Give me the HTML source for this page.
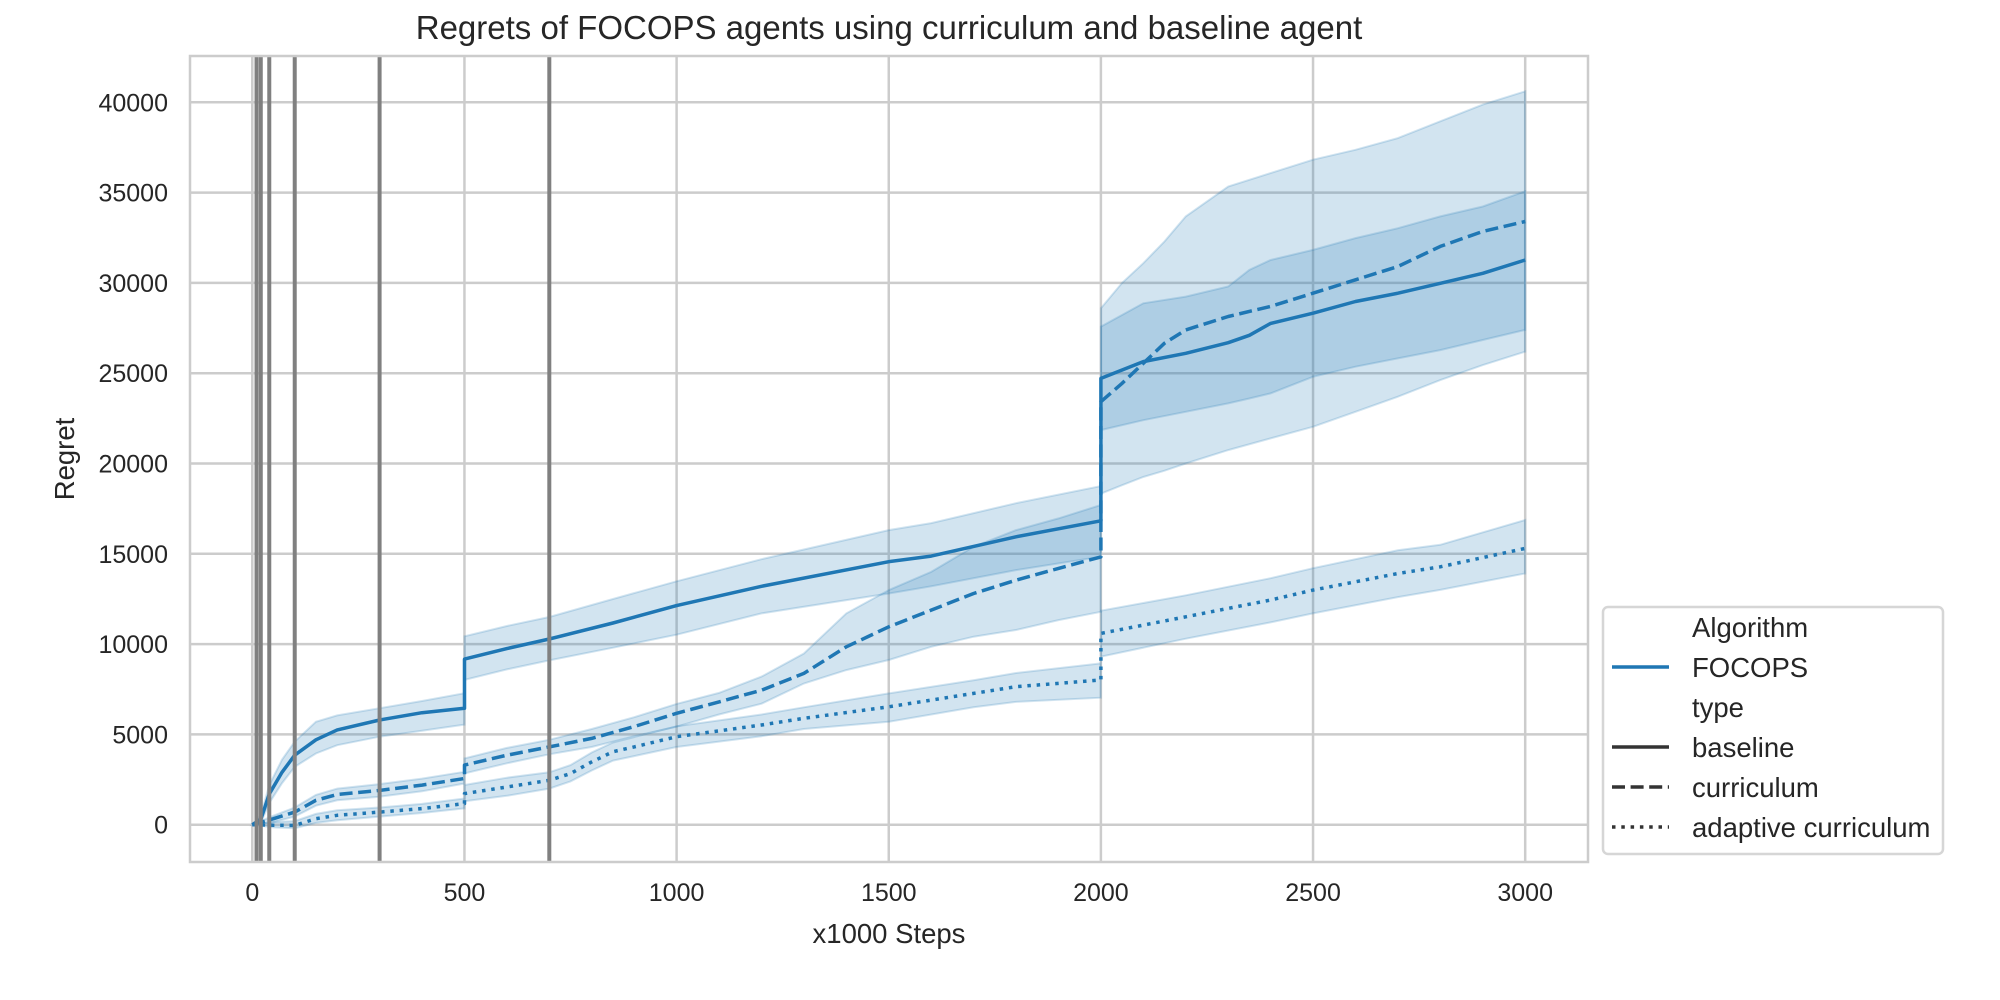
<!DOCTYPE html>
<html><head><meta charset="utf-8">
<style>
html,body{margin:0;padding:0;background:#fff;}
svg{display:block;font-family:"Liberation Sans",Arial,sans-serif;}
</style></head>
<body>
<svg id="chart" width="2000" height="1000" viewBox="0 0 2000 1000" xmlns="http://www.w3.org/2000/svg">
<rect width="2000" height="1000" fill="#fff"/>
<text x="889" y="39" font-size="33" fill="#262626" text-anchor="middle">Regrets of FOCOPS agents using curriculum and baseline agent</text>
<g id="grid"></g>
<g id="bands"></g>
<g id="lines"></g>
<g id="vlines"></g>
<rect x="190" y="56" width="1398" height="806" fill="none" stroke="#cccccc" stroke-width="2.5"/>
<g id="ticks"></g>
<text x="889" y="943" font-size="27.5" fill="#262626" text-anchor="middle">x1000 Steps</text>
<text transform="translate(74,459) rotate(-90)" font-size="27.5" fill="#262626" text-anchor="middle">Regret</text>
<g>
<rect x="1603" y="607" width="340" height="247" rx="5" fill="#fff" stroke="#d6d6d6" stroke-width="2.5"/>
<text x="1692" y="637" font-size="27.5" fill="#262626">Algorithm</text>
<line x1="1612" y1="667" x2="1669" y2="667" stroke="#1f77b4" stroke-width="3.5"/>
<text x="1692" y="677" font-size="27.5" fill="#262626">FOCOPS</text>
<text x="1692" y="717" font-size="27.5" fill="#262626">type</text>
<line x1="1612" y1="747" x2="1669" y2="747" stroke="#333" stroke-width="3.5"/>
<text x="1692" y="757" font-size="27.5" fill="#262626">baseline</text>
<line x1="1612" y1="787" x2="1669" y2="787" stroke="#333" stroke-width="3.5" stroke-dasharray="13,5.6"/>
<text x="1692" y="797" font-size="27.5" fill="#262626">curriculum</text>
<line x1="1612" y1="827" x2="1669" y2="827" stroke="#333" stroke-width="3.5" stroke-dasharray="3.5,5.8"/>
<text x="1692" y="837" font-size="27.5" fill="#262626">adaptive curriculum</text>
</g>
</svg>
<script>
const xTicks = [0,500,1000,1500,2000,2500,3000];
const yTicks = [0,5000,10000,15000,20000,25000,30000,35000,40000];
const markerSteps = [10,20,40,100,300,700];

const baseX = [0,20,40,70,100,150,200,300,400,500,500,600,700,850,1000,1200,1500,1600,1800,2000,2000,2100,2200,2300,2350,2400,2500,2600,2700,2800,2900,3000];
const baseMean = [0,300,1700,2900,3850,4700,5250,5800,6200,6450,9170,9750,10280,11170,12130,13200,14560,14870,15940,16830,24710,25640,26100,26690,27100,27760,28320,28970,29430,29980,30530,31270];
const baseHi = [0,500,2200,3600,4600,5700,6050,6450,6850,7280,10430,11000,11500,12500,13480,14700,16310,16700,17800,18750,27580,28870,29240,29800,30720,31270,31830,32480,33030,33680,34230,35070];
const baseLo = [0,100,1200,2300,3200,3940,4400,4870,5200,5540,8020,8600,9100,9800,10520,11700,12800,13200,14100,14840,21850,22400,22860,23330,23600,23880,24800,25360,25820,26280,26840,27400];

const currX = [0,50,100,150,200,300,400,500,500,600,700,800,900,1000,1100,1200,1300,1400,1500,1600,1700,1800,1900,2000,2000,2050,2100,2150,2200,2300,2400,2500,2600,2700,2800,2900,3000];
const currMean = [0,330,700,1350,1670,1900,2190,2560,3300,3850,4310,4780,5430,6170,6800,7450,8380,9850,10960,11880,12800,13540,14190,14830,23420,24440,25550,26660,27400,28140,28700,29430,30170,30910,32020,32850,33400];
const currHi = [0,500,950,1650,2000,2250,2550,2930,3670,4250,4700,5300,5950,6690,7300,8200,9480,11700,12990,14000,15390,16310,16960,17700,28600,30000,31090,32300,33680,35340,36080,36820,37370,38020,38950,39870,40610];
const currLo = [0,150,450,1050,1350,1550,1850,2280,2840,3400,3900,4300,4900,5430,6100,6700,7820,8560,9120,9850,10410,10780,11330,11790,18330,18800,19250,19600,20000,20740,21390,22030,22860,23700,24620,25450,26190];

const adaX = [0,50,100,150,200,300,400,500,500,600,700,750,800,850,900,1000,1200,1300,1500,1700,1800,2000,2000,2200,2400,2500,2700,2800,3000];
const adaMean = [0,-30,-40,330,520,700,890,1170,1720,2090,2460,2830,3480,4040,4310,4870,5520,5890,6530,7270,7640,8010,10590,11510,12440,12990,13910,14280,15300];
const adaHi = [0,150,200,600,800,950,1150,1450,2200,2600,2900,3300,4000,4550,4850,5450,6100,6500,7270,8000,8400,8930,11850,12700,13650,14200,15200,15500,16870];
const adaLo = [0,-150,-200,100,250,450,650,900,1300,1600,2000,2400,3000,3550,3800,4300,4900,5300,5700,6500,6800,7030,9300,10300,11200,11700,12600,13000,13910];

const NS = 'http://www.w3.org/2000/svg';
const X = v => 252.3 + v * 0.4243;
const Y = v => 824.7 - v * 0.01806;
function mk(tag, parent, attrs){ const e = document.createElementNS(NS, tag); for (const k in attrs) e.setAttribute(k, attrs[k]); parent.appendChild(e); return e; }

const grid = document.getElementById('grid');
const ticks = document.getElementById('ticks');
xTicks.forEach(t => {
  const l = mk('line', grid, {x1:X(t), x2:X(t), y1:56, y2:862, stroke:'#cccccc', 'stroke-width':2.5});
  
  
  const tx = mk('text', ticks, {x:X(t), y:901, 'font-size':25, fill:'#262626', 'text-anchor':'middle'});
  tx.textContent = t;
  
  
});
yTicks.forEach(t => {
  const l = mk('line', grid, {x1:190, x2:1588, y1:Y(t), y2:Y(t), stroke:'#cccccc', 'stroke-width':2.5});
  
  
  const tx = mk('text', ticks, {x:168, y:Y(t)+9, 'font-size':25, fill:'#262626', 'text-anchor':'end'});
  tx.textContent = t;
  
  
});

const bands = document.getElementById('bands');
const lines = document.getElementById('lines');
function series(xs, mean, hi, lo, name, dash){
  let d = 'M' + xs.map((x,i) => X(x).toFixed(1) + ',' + Y(hi[i]).toFixed(1)).join('L');
  d += 'L' + xs.map((x,i) => [X(x).toFixed(1), Y(lo[i]).toFixed(1)]).reverse().map(p => p.join(',')).join('L') + 'Z';
  const b = mk('path', bands, {d:d, fill:'rgba(31,119,180,0.2)', stroke:'rgba(31,119,180,0.2)', 'stroke-width':2});
  
  
  const pts = xs.map((x,i) => X(x).toFixed(1) + ',' + Y(mean[i]).toFixed(1)).join(' ');
  const attrs = {points:pts, fill:'none', stroke:'#1f77b4', 'stroke-width':3.5, 'stroke-linejoin':'round'};
  if (dash) attrs['stroke-dasharray'] = dash;
  const p = mk('polyline', lines, attrs);
  
  
}
series(baseX, baseMean, baseHi, baseLo, 'baseline', null);
series(currX, currMean, currHi, currLo, 'curriculum', '13,5.6');
series(adaX, adaMean, adaHi, adaLo, 'adaptive-curriculum', '3.5,5.8');

const vl = document.getElementById('vlines');
markerSteps.forEach(s => {
  const l = mk('line', vl, {x1:X(s), x2:X(s), y1:56, y2:862, stroke:'#808080', 'stroke-width':4});
  
  
});
</script>
</body></html>
